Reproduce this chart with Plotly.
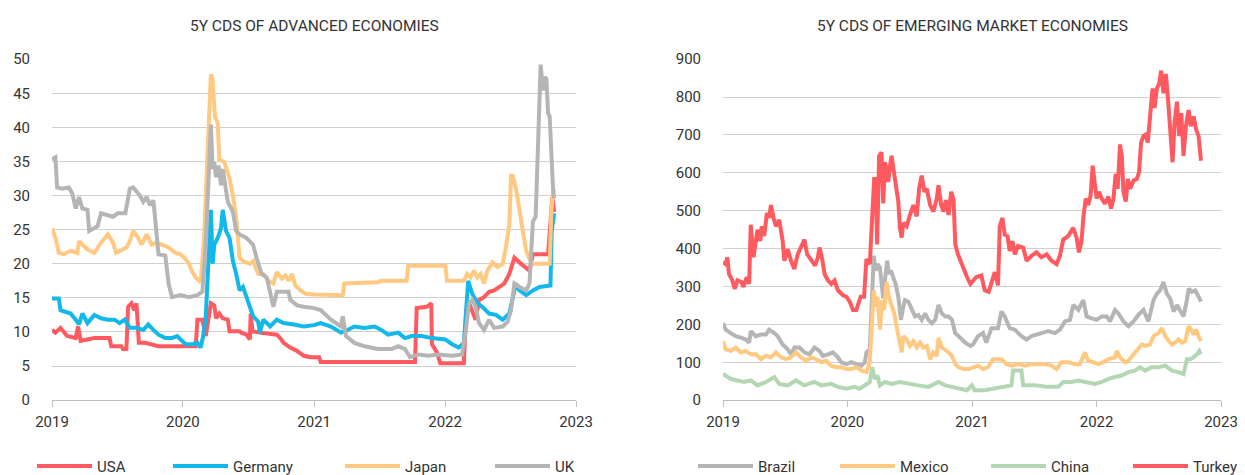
import numpy as np
import pandas as pd
import plotly.graph_objects as go

# ---------------- data (time = years after 1 Jan 2019) ----------------
usa_t = [0,0.026,0.065,0.116,0.181,0.199,0.219,0.271,0.323,0.439,0.452,0.529,0.542,0.568,0.581,0.606,0.627,0.645,0.663,0.710,0.761,0.813,0.994,1.097,1.110,1.148,1.174,1.200,1.213,1.239,1.252,1.277,1.303,1.342,1.355,1.432,1.445,1.484,1.510,1.517,1.530,1.587,1.716,1.742,1.768,1.819,1.871,1.923,1.974,2.039,2.051,2.771,2.784,2.861,2.895,2.900,2.938,2.964,3.144,3.162,3.195,3.234,3.260,3.298,3.337,3.375,3.414,3.452,3.491,3.530,3.568,3.607,3.645,3.671,3.787,3.820,3.833]
usa_v = [10.3,9.9,10.6,9.4,9.1,10.8,8.7,8.9,9.1,9.1,7.9,7.9,7.5,7.5,13.7,14.2,13.2,14.2,8.4,8.4,8.2,7.9,7.9,7.9,11.8,11.8,9.4,13.2,14.2,13.9,12.0,12.7,12.0,11.8,10.1,10.1,9.9,9.6,8.9,12.7,10.1,9.9,9.6,9.1,8.4,7.7,7.2,6.5,6.3,6.3,5.6,5.6,13.5,13.7,14.2,8.2,7.0,5.4,5.4,13.2,13.7,11.8,14.7,15.1,15.9,16.1,16.6,17.1,18.5,20.9,20.2,19.5,19.0,21.4,21.4,29.8,27.6]

germany_t = [0,0.052,0.065,0.103,0.142,0.181,0.206,0.232,0.271,0.323,0.374,0.426,0.477,0.516,0.555,0.594,0.645,0.697,0.735,0.774,0.813,0.865,0.916,0.955,0.981,1.019,1.071,1.110,1.135,1.154,1.174,1.195,1.213,1.226,1.239,1.265,1.290,1.303,1.329,1.355,1.381,1.406,1.432,1.458,1.484,1.510,1.535,1.574,1.587,1.613,1.665,1.716,1.768,1.845,1.923,2.000,2.051,2.129,2.206,2.257,2.308,2.386,2.463,2.514,2.566,2.643,2.694,2.746,2.823,2.900,3.003,3.054,3.105,3.144,3.162,3.177,3.208,3.247,3.285,3.337,3.388,3.440,3.491,3.517,3.542,3.568,3.620,3.671,3.722,3.805,3.815,3.833]
germany_v = [14.9,14.9,13.2,13.0,12.7,11.8,11.1,12.7,11.3,12.5,12.0,11.8,11.8,11.3,11.8,10.6,10.6,10.3,11.1,10.3,9.6,9.1,9.1,9.4,8.9,8.2,8.2,8.4,7.7,9.4,12.3,20.4,27.9,20.0,22.8,23.8,25.2,27.9,24.8,23.8,20.4,18.5,16.1,16.6,15.1,13.7,12.3,11.5,9.9,11.8,10.8,11.8,11.3,11.1,10.8,11.0,11.3,10.8,9.9,10.3,10.8,10.6,10.8,10.3,9.6,9.9,9.1,9.4,9.4,9.1,8.9,8.2,7.7,8.4,14.2,17.5,15.6,14.2,13.7,12.7,12.5,11.8,12.7,15.1,17.1,16.1,15.4,16.1,16.6,16.8,24.8,27.4]

japan_t = [0,0.026,0.052,0.090,0.142,0.194,0.206,0.232,0.271,0.323,0.374,0.426,0.465,0.490,0.568,0.594,0.619,0.658,0.684,0.723,0.761,0.800,0.839,0.890,0.942,0.981,1.019,1.045,1.071,1.097,1.135,1.161,1.179,1.200,1.213,1.226,1.244,1.265,1.277,1.316,1.355,1.381,1.406,1.432,1.458,1.510,1.535,1.574,1.613,1.652,1.690,1.716,1.755,1.781,1.806,1.832,1.858,1.897,1.935,2.000,2.219,2.231,2.488,2.514,2.707,2.720,3.003,3.015,3.144,3.170,3.195,3.221,3.247,3.272,3.298,3.324,3.362,3.401,3.440,3.465,3.491,3.504,3.517,3.542,3.568,3.594,3.620,3.645,3.671,3.799,3.812,3.825,3.833]
japan_v = [25.2,23.8,21.6,21.4,21.9,21.6,23.3,22.8,22.1,21.6,23.1,24.3,23.1,21.6,22.4,23.3,24.8,23.8,22.8,24.3,22.8,23.1,22.8,22.4,21.6,21.4,20.7,20.0,18.8,18.0,17.3,23.8,32.5,42.1,47.8,46.9,41.6,40.6,35.3,34.9,32.5,30.0,26.7,20.9,20.4,20.0,20.4,18.5,18.5,17.5,17.1,18.8,17.8,18.3,17.5,18.5,16.8,16.1,15.6,15.5,15.4,17.1,17.3,17.5,17.5,19.7,19.7,17.5,17.5,18.5,18.0,19.0,18.0,18.5,17.1,19.0,20.2,19.5,20.0,22.4,25.7,32.9,32.9,31.0,27.6,24.8,21.9,20.7,20.0,20.0,27.6,31.0,30.5]

uk_t = [0,0.026,0.039,0.077,0.129,0.155,0.181,0.206,0.232,0.271,0.284,0.348,0.374,0.465,0.503,0.560,0.594,0.619,0.671,0.697,0.723,0.748,0.774,0.800,0.813,0.865,0.890,0.916,0.981,1.045,1.110,1.148,1.174,1.195,1.213,1.226,1.239,1.252,1.272,1.290,1.303,1.342,1.381,1.406,1.432,1.484,1.535,1.561,1.600,1.639,1.665,1.690,1.716,1.768,1.806,1.819,1.871,1.923,2.000,2.051,2.129,2.206,2.219,2.244,2.308,2.386,2.488,2.591,2.643,2.694,2.733,2.797,2.874,2.951,3.054,3.131,3.157,3.183,3.208,3.234,3.260,3.298,3.337,3.375,3.440,3.478,3.504,3.530,3.568,3.620,3.645,3.671,3.692,3.710,3.730,3.748,3.761,3.774,3.787,3.799,3.812,3.825,3.833]
uk_v = [35.3,35.6,31.2,31.0,31.2,30.3,28.1,29.8,28.1,27.9,24.8,25.5,27.4,26.9,27.4,27.4,31.0,31.2,30.0,29.1,29.8,28.6,29.3,24.8,21.4,21.2,17.1,15.1,15.4,15.1,15.4,15.9,22.8,32.5,40.4,33.9,34.9,32.7,34.4,31.5,33.9,29.1,27.6,24.8,24.3,23.8,22.8,20.9,18.5,18.0,16.1,13.7,15.9,15.9,15.9,14.7,13.9,13.7,13.5,13.2,11.8,10.8,12.3,9.4,8.4,7.9,7.5,7.5,7.9,7.5,6.3,6.7,6.5,6.7,6.5,6.7,9.9,14.2,14.7,13.7,11.3,10.3,11.8,10.6,10.8,11.5,13.2,17.1,16.6,16.1,17.1,26.2,26.9,37.3,49.2,45.4,47.4,47.1,42.1,41.6,34.9,31.0,29.6]

brazil_t = [0,0.022,0.062,0.102,0.143,0.183,0.210,0.223,0.264,0.304,0.345,0.371,0.412,0.439,0.479,0.520,0.546,0.573,0.614,0.654,0.694,0.735,0.775,0.802,0.843,0.883,0.923,0.950,0.991,1.031,1.071,1.112,1.139,1.152,1.179,1.198,1.211,1.225,1.241,1.260,1.273,1.287,1.306,1.319,1.332,1.349,1.367,1.386,1.408,1.429,1.448,1.462,1.489,1.516,1.542,1.569,1.596,1.623,1.650,1.677,1.704,1.731,1.758,1.785,1.812,1.839,1.865,1.892,1.919,1.946,1.987,2.008,2.048,2.089,2.115,2.156,2.209,2.236,2.263,2.303,2.344,2.397,2.438,2.478,2.518,2.558,2.612,2.666,2.706,2.746,2.787,2.813,2.854,2.894,2.921,2.961,3.001,3.042,3.082,3.109,3.149,3.176,3.216,3.256,3.297,3.337,3.377,3.417,3.458,3.485,3.511,3.538,3.565,3.592,3.619,3.646,3.672,3.699,3.726,3.740,3.766,3.793,3.820,3.839]
brazil_v = [203,186,177,169,165,160,152,182,169,173,173,186,177,169,147,134,121,139,139,126,121,139,130,117,121,126,113,100,95,100,95,91,100,126,134,325,381,342,359,351,307,268,333,368,333,342,325,307,273,212,247,264,260,238,221,225,212,229,212,203,212,251,229,221,221,212,177,169,160,152,143,147,169,177,152,190,190,234,221,190,186,169,160,169,173,177,182,177,186,208,212,251,238,264,221,216,212,221,221,208,238,229,208,195,208,225,238,208,264,281,290,312,281,268,234,251,238,221,264,294,286,290,273,260]

mexico_t = [0,0.022,0.062,0.102,0.143,0.183,0.223,0.264,0.304,0.345,0.385,0.425,0.466,0.506,0.546,0.587,0.627,0.668,0.708,0.748,0.789,0.829,0.869,0.910,0.950,0.991,1.031,1.071,1.112,1.152,1.179,1.198,1.211,1.225,1.241,1.260,1.279,1.295,1.314,1.332,1.354,1.376,1.394,1.421,1.435,1.448,1.475,1.502,1.529,1.556,1.583,1.610,1.637,1.664,1.690,1.717,1.731,1.758,1.785,1.812,1.839,1.865,1.892,1.933,1.973,2.008,2.048,2.089,2.129,2.169,2.236,2.277,2.317,2.370,2.424,2.478,2.532,2.585,2.639,2.679,2.719,2.773,2.827,2.867,2.907,2.934,2.974,3.015,3.055,3.095,3.149,3.162,3.189,3.230,3.256,3.297,3.337,3.364,3.391,3.431,3.458,3.498,3.525,3.552,3.579,3.606,3.632,3.659,3.686,3.713,3.740,3.761,3.780,3.801,3.820,3.839]
mexico_v = [156,134,130,139,126,130,121,121,108,117,113,126,113,108,113,126,113,104,113,108,100,104,91,87,87,82,82,87,78,74,100,238,290,247,273,186,264,238,312,273,247,229,195,152,126,169,160,143,156,139,152,139,143,108,126,117,164,139,134,126,117,95,87,82,82,87,91,82,87,108,108,95,91,95,91,95,95,95,91,82,100,100,95,95,126,104,100,95,100,108,113,130,113,100,104,121,134,147,143,147,169,177,190,169,156,147,152,160,152,156,195,186,173,186,169,156]

china_t = [0,0.062,0.116,0.170,0.223,0.277,0.345,0.412,0.452,0.520,0.587,0.654,0.735,0.789,0.869,0.923,0.991,1.058,1.098,1.139,1.179,1.198,1.219,1.241,1.260,1.300,1.354,1.421,1.489,1.569,1.650,1.731,1.785,1.839,1.892,1.960,2.000,2.021,2.102,2.183,2.263,2.317,2.330,2.397,2.411,2.505,2.612,2.693,2.733,2.800,2.854,2.907,2.988,3.042,3.095,3.149,3.203,3.256,3.310,3.350,3.391,3.444,3.498,3.552,3.606,3.659,3.699,3.726,3.753,3.780,3.807,3.825,3.839]
china_v = [69,56,52,48,52,39,48,61,43,39,52,39,48,39,43,35,30,35,30,39,48,87,56,65,39,48,43,48,43,39,35,48,39,35,30,26,39,26,26,30,35,39,78,78,39,39,35,35,48,48,52,48,43,48,56,61,65,74,78,87,78,87,87,91,78,74,69,108,108,113,121,130,121]

turkey_t = [0,0.022,0.035,0.048,0.075,0.094,0.116,0.148,0.164,0.191,0.210,0.223,0.245,0.264,0.277,0.299,0.312,0.331,0.353,0.371,0.385,0.406,0.425,0.452,0.479,0.493,0.520,0.546,0.573,0.600,0.627,0.654,0.676,0.708,0.740,0.762,0.775,0.794,0.816,0.843,0.869,0.896,0.923,0.964,0.991,1.018,1.044,1.071,1.106,1.133,1.152,1.179,1.198,1.214,1.227,1.238,1.254,1.273,1.287,1.300,1.314,1.327,1.341,1.354,1.373,1.394,1.408,1.421,1.435,1.448,1.475,1.502,1.529,1.556,1.575,1.596,1.618,1.637,1.664,1.690,1.717,1.731,1.752,1.771,1.790,1.812,1.833,1.852,1.866,1.887,1.906,1.933,1.960,1.987,2.035,2.075,2.102,2.134,2.156,2.183,2.209,2.223,2.244,2.263,2.285,2.303,2.325,2.344,2.370,2.411,2.438,2.478,2.518,2.558,2.599,2.639,2.679,2.706,2.733,2.773,2.813,2.840,2.859,2.880,2.894,2.913,2.934,2.953,2.969,2.988,3.001,3.020,3.042,3.068,3.095,3.117,3.136,3.154,3.170,3.189,3.203,3.216,3.235,3.251,3.270,3.297,3.324,3.342,3.358,3.377,3.396,3.412,3.431,3.450,3.466,3.485,3.503,3.519,3.538,3.557,3.573,3.592,3.611,3.627,3.646,3.664,3.681,3.699,3.718,3.740,3.758,3.780,3.801,3.820,3.839]
turkey_v = [364,359,377,333,316,294,316,312,299,325,307,463,377,420,450,420,459,433,494,481,515,481,459,476,420,368,398,368,346,385,407,424,385,372,355,377,403,377,333,316,307,316,290,277,273,260,238,238,273,273,372,359,498,584,584,411,645,654,519,628,610,576,619,645,602,550,524,455,429,468,459,489,515,485,558,593,550,558,515,498,532,567,515,498,528,489,550,528,411,385,368,342,325,307,325,329,290,286,312,338,303,459,481,437,433,394,420,385,407,403,368,381,390,377,385,368,359,381,424,433,455,429,390,420,481,532,515,541,619,558,532,550,532,519,537,506,532,597,558,675,645,550,524,584,558,580,584,602,680,697,701,680,745,823,771,823,835,870,810,861,801,706,628,732,788,697,758,645,723,766,723,749,714,697,632]

left_names = ["USA", "Germany", "Japan", "UK"]
right_names = ["Brazil", "Mexico", "China", "Turkey"]

# ---------------- helpers ----------------
BASE = pd.Timestamp("2019-01-01")


def to_dates(t):
    return BASE + pd.to_timedelta(np.asarray(t) * 365.25, unit="D")


FONT = "Roboto, Liberation Sans, sans-serif"
TXT = "#333333"
W, H = 1245, 475

colors = {
    "USA": "#FF5A5F", "Germany": "#12B8EA", "Japan": "#FFC982", "UK": "#B5B5B5",
    "Brazil": "#B5B5B5", "Mexico": "#FFC982", "China": "#B3D6B3", "Turkey": "#FF5A5F",
}
series = {
    "USA": (usa_t, usa_v), "Germany": (germany_t, germany_v),
    "Japan": (japan_t, japan_v), "UK": (uk_t, uk_v),
    "Brazil": (brazil_t, brazil_v), "Mexico": (mexico_t, mexico_v),
    "China": (china_t, china_v), "Turkey": (turkey_t, turkey_v),
}
legend_px = {"USA": 37, "Germany": 173, "Japan": 345, "UK": 495,
             "Brazil": 698, "Mexico": 840, "China": 991, "Turkey": 1133}

fig = go.Figure()
for i, name in enumerate(left_names + right_names):
    t, v = series[name]
    left = name in left_names
    lg = "legend" if i == 0 else f"legend{i + 1}"
    fig.add_trace(go.Scatter(
        x=to_dates(t), y=v, mode="lines", name=name,
        line=dict(color=colors[name], width=4),
        xaxis="x" if left else "x2", yaxis="y" if left else "y2",
        legend=lg, hoverinfo="skip",
    ))

# plot area in pixels
LX0, LX1 = 44, 568
RX0, RX1 = 715, 1213
PY0, PY1 = 52, 398
ydom = [1 - PY1 / H, 1 - PY0 / H]

xcommon = dict(
    type="date", range=["2019-01-01", "2023-01-01"], dtick="M12", tickformat="%Y",
    ticks="outside", ticklen=6, tickcolor="#BFBFBF", showline=True,
    linecolor="#BFBFBF", linewidth=1, showgrid=False, zeroline=False,
    tickfont=dict(family=FONT, size=15, color=TXT), automargin=False,
    ticklabelstandoff=2,
)
ycommon = dict(
    showgrid=True, gridcolor="#D0D0D0", gridwidth=1, zeroline=False,
    showline=False, ticks="", tickfont=dict(family=FONT, size=15, color=TXT),
    automargin=False, ticklabelstandoff=21,
)

layout = dict(
    width=W, height=H, margin=dict(l=0, r=0, t=0, b=0),
    paper_bgcolor="white", plot_bgcolor="white",
    font=dict(family=FONT, color=TXT),
    xaxis=dict(domain=[LX0 / W, LX1 / W], anchor="y", **xcommon),
    yaxis=dict(domain=ydom, anchor="x", range=[0, 50], dtick=5, **ycommon),
    xaxis2=dict(domain=[RX0 / W, RX1 / W], anchor="y2", **xcommon),
    yaxis2=dict(domain=ydom, anchor="x2", range=[0, 900], dtick=100, **ycommon),
    showlegend=True,
    annotations=[
        dict(text="5Y CDS OF ADVANCED ECONOMIES", x=(LX0 + LX1) / 2 / W, y=1 - 18 / H,
             xref="paper", yref="paper", showarrow=False, xanchor="center", yanchor="middle",
             font=dict(family=FONT, size=15.5, color=TXT)),
        dict(text="5Y CDS OF EMERGING MARKET ECONOMIES", x=(RX0 + RX1) / 2 / W, y=1 - 18 / H,
             xref="paper", yref="paper", showarrow=False, xanchor="center", yanchor="middle",
             font=dict(family=FONT, size=15.5, color=TXT)),
    ],
)
for i, name in enumerate(left_names + right_names):
    key = "legend" if i == 0 else f"legend{i + 1}"
    layout[key] = dict(
        x=(legend_px[name] - 13) / W, y=1 - 465 / H, xanchor="left", yanchor="middle",
        orientation="h", bgcolor="rgba(0,0,0,0)", borderwidth=0,
        font=dict(family=FONT, size=15, color=TXT), itemwidth=55,
        itemclick=False, itemdoubleclick=False,
    )

fig.update_layout(**layout)
fig.write_html("out.html")
